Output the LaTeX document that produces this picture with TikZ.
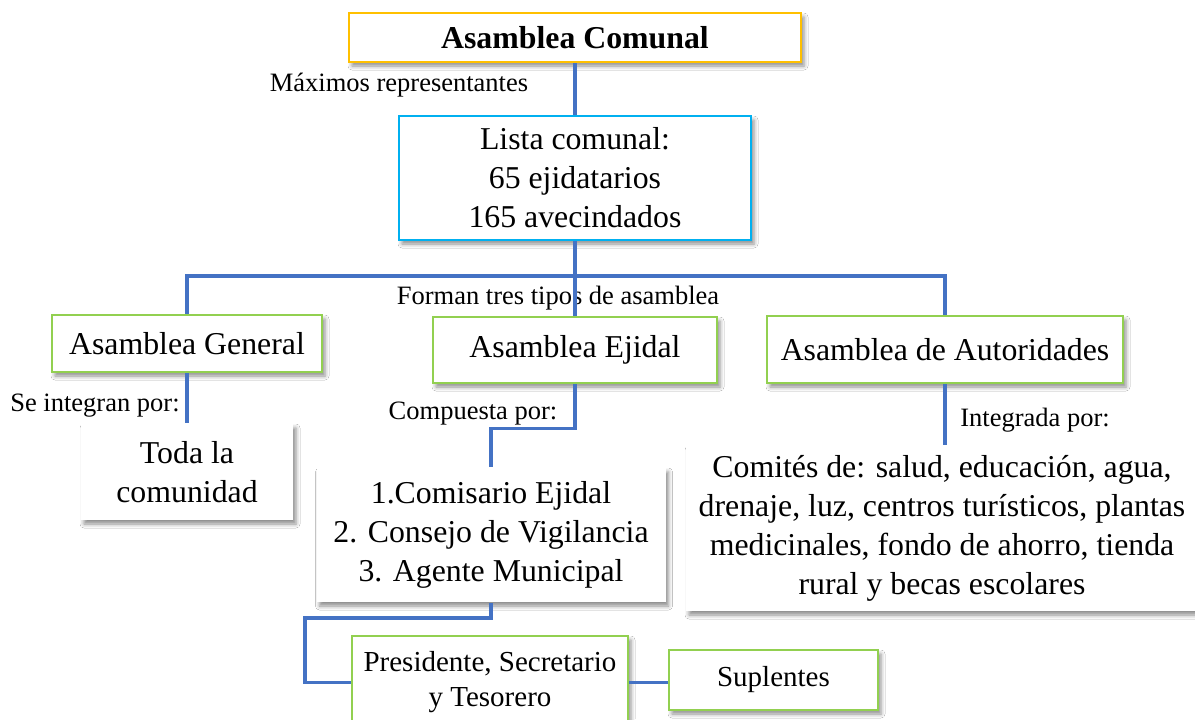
\documentclass[tikz,border=0pt]{standalone}
\usepackage{fontspec}
\setmainfont{Liberation Serif}
\usetikzlibrary{shadows.blur}
\definecolor{naranja}{HTML}{FFC000}
\definecolor{celeste}{HTML}{00B0F0}
\definecolor{verde}{HTML}{92D050}
\definecolor{azul}{HTML}{4472C4}

\begin{document}
\begin{tikzpicture}[x=0.5pt,y=-0.5pt]
\tikzset{
  caja/.style={draw, fill=white, line width=1.1pt, inner sep=0pt, align=center,
    font=\fontsize{15.9}{19.5}\selectfont,
    blur shadow={shadow xshift=1.5pt, shadow yshift=-2pt, shadow blur radius=2pt, shadow opacity=45}},
  cajaverde/.style={caja, draw=verde},
  cajalisa/.style={caja, draw=none},
  enlace/.style={draw=azul, line width=1.6pt},
  etiqueta/.style={font=\fontsize{13.25}{16}\selectfont, inner sep=0pt}
}
  \fill[white] (0,0) rectangle (1195,719);
  \useasboundingbox (0,0) rectangle (1195,719);

  % las cajas
  \node[caja, draw=naranja, minimum width=226pt, minimum height=24.5pt,
        font=\fontsize{15.9}{19.5}\selectfont\bfseries] (comunal) at (575,37.5) {Asamblea Comunal};
  \node[caja, draw=celeste, minimum width=176pt, minimum height=62pt] (lista) at (575,178)
        {Lista comunal:\\65 ejidatarios\\165 avecindados};
  \node[cajaverde, minimum width=135pt, minimum height=28.5pt] (general) at (187,343.5) {Asamblea General};
  \node[cajaverde, minimum width=142pt, minimum height=33pt] (ejidal) at (575,350) {Asamblea Ejidal};
  \node[cajaverde, minimum width=178pt, minimum height=33.5pt] (autoridades) at (945,349.5) {Asamblea de Autoridades};
  \node[cajalisa, minimum width=106pt, minimum height=48pt] (toda) at (187,472) {Toda la\\comunidad};
  \node[cajalisa, minimum width=174.5pt, minimum height=67pt] (cargos) at (491,535)
        {1.Comisario Ejidal\\2. Consejo de Vigilancia\\3. Agente Municipal};
  \node[cajaverde, minimum width=138pt, minimum height=46.5pt, font=\fontsize{14.5}{17.5}\selectfont]
        (presidente) at (490,682.5) {Presidente, Secretario\\y Tesorero};
  \node[cajaverde, minimum width=104.5pt, minimum height=30pt, font=\fontsize{14.5}{17.5}\selectfont]
        (suplentes) at (773.5,680) {Suplentes};
  \node[cajalisa, minimum width=256pt, minimum height=82.5pt] (comites) at (942,528.5)
        {Comités de: salud, educación, agua,\\drenaje, luz, centros turísticos, plantas\\medicinales, fondo de ahorro, tienda\\rural y becas escolares};

  % los textos
  \node[etiqueta] (maximos) at (399,85) {Máximos representantes};
  \node[etiqueta] (forman) at (558,298) {Forman tres tipos de asamblea};
  \node[etiqueta] (seintegran) at (95,406) {Se integran por:};
  \node[etiqueta] (compuesta) at (473,414) {Compuesta por:};
  \node[etiqueta] (integrada) at (1035,420) {Integrada por:};

  % las lineas
  \draw[enlace] (comunal) -- (lista);
  \draw[enlace] (lista) -- (ejidal);
  \draw[enlace] (general.north) -- ++(0,-38) -| (autoridades.north);
  \draw[enlace] (general) -- (toda);
  \draw[enlace] (ejidal.south) -- ++(0,44) -| (cargos.north);
  \coordinate (quiebre) at (305,618);
  \draw[enlace] (cargos.south) |- (quiebre) |- (presidente.west);
  \draw[enlace] (presidente.east) -- (presidente.east -| suplentes.west);
  \draw[enlace] (autoridades.south) -- (autoridades.south |- comites.north);
\end{tikzpicture}
\end{document}
